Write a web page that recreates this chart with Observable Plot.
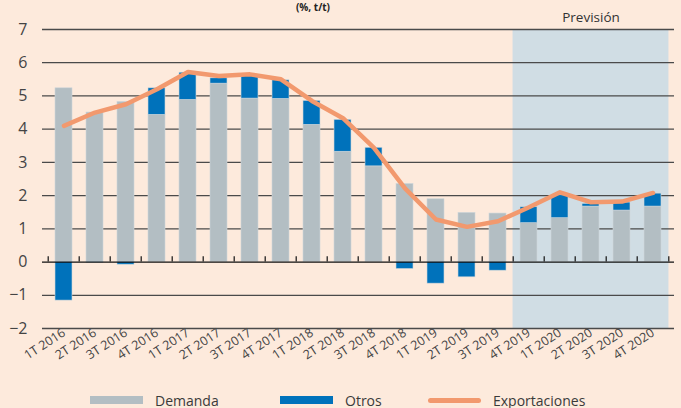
<!DOCTYPE html>
<html>
<head>
<meta charset="utf-8">
<script src="https://cdn.jsdelivr.net/npm/d3@7"></script>
<script src="https://cdn.jsdelivr.net/npm/@observablehq/plot@0.6"></script>
<style>
  html, body { margin: 0; padding: 0; background: #fdeadc; }
  body { width: 681px; height: 408px; position: relative; overflow: hidden; font-family: "Open Sans", sans-serif; color: #3a3a3a; }
  #title { position: absolute; left: 0; width: 330px; text-align: right; top: 1px; font-size: 10px; font-weight: bold; color: #222; line-height: 12px; }
  #chart { position: absolute; left: 0; top: 0; width: 681px; }
  #chart g[aria-label="x-axis tick label"] { font-size: 12.5px; }
  #chart g[aria-label="y-axis tick label"] { font-size: 16px; }
  .legend { position: absolute; top: 390px; height: 20px; font-size: 14px; display: flex; align-items: center; }
  .sw { display: inline-block; width: 53px; height: 8px; margin-right: 12px; }
</style>
</head>
<body>
<div id="chart"></div>
<div id="title">(%, t/t)</div>
<div class="legend" style="left:90px"><span class="sw" style="background:#b3bec3"></span>Demanda</div>
<div class="legend" style="left:280px"><span class="sw" style="background:#0072bb"></span>Otros</div>
<div class="legend" style="left:428px"><span class="sw" style="background:#f2996e;height:5px;border-radius:3px"></span>Exportaciones</div>
<script>
const quarters = ["1T 2016","2T 2016","3T 2016","4T 2016","1T 2017","2T 2017","3T 2017","4T 2017","1T 2018","2T 2018","3T 2018","4T 2018","1T 2019","2T 2019","3T 2019","4T 2019","1T 2020","2T 2020","3T 2020","4T 2020"];
const demanda = [5.23, 4.5, 4.82, 4.43, 4.88, 5.37, 4.92, 4.91, 4.13, 3.32, 2.88, 2.35, 1.89, 1.48, 1.46, 1.17, 1.32, 1.67, 1.55, 1.67];
const otros = [-1.16, -0.02, -0.08, 0.8, 0.82, 0.16, 0.68, 0.56, 0.72, 0.96, 0.56, -0.21, -0.65, -0.46, -0.26, 0.48, 0.69, 0.08, 0.24, 0.39];
const exportaciones = [4.1, 4.5, 4.75, 5.2, 5.72, 5.6, 5.65, 5.5, 4.85, 4.33, 3.44, 2.22, 1.28, 1.06, 1.23, 1.65, 2.1, 1.8, 1.82, 2.08];
const forecast = quarters.slice(15);
const yTicks = [-2, -1, 0, 1, 2, 3, 4, 5, 6, 7];

const bars = [];
quarters.forEach((q, i) => {
  bars.push({q, serie: "Demanda", v: demanda[i]});
  bars.push({q, serie: "Otros", v: otros[i]});
});
const line = quarters.map((q, i) => ({q, v: exportaciones[i]}));

const W = 681, H = 385, ML = 42, MR = 7;
const step = (W - ML - MR) / quarters.length;
const pad = 0.44;

const plot = Plot.plot({
  width: W, height: H,
  marginLeft: ML, marginRight: MR, marginTop: 29, marginBottom: 57,
  style: {background: "transparent", fontFamily: "Open Sans, sans-serif", color: "#444"},
  x: {domain: quarters, paddingInner: pad, paddingOuter: pad / 2, label: null, tickSize: 0, tickPadding: 3, tickRotate: -33},
  y: {domain: [-2, 7], ticks: yTicks, label: null, tickSize: 0, tickPadding: 15},
  color: {domain: ["Demanda", "Otros"], range: ["#b3bec3", "#0072bb"]},
  marks: [
    Plot.barY(forecast, {x: d => d, y1: -2, y2: 7, fill: "#d0dde4", insetLeft: -step * pad / 2 - 0.5, insetRight: -step * pad / 2 - 0.5}),
    Plot.ruleY(yTicks.filter(d => d !== 0), {stroke: "#4a4a4a", strokeWidth: 1.3}),
    Plot.barY(bars, {x: "q", y: "v", fill: "serie", order: ["Demanda", "Otros"], stroke: "#cfd6d9", strokeWidth: 0.6}),
    Plot.ruleY([0], {stroke: "#111", strokeWidth: 1.3}),
    Plot.ruleX(quarters, {x: d => d, y1: 0, y2: 0.16, dx: -step / 2, stroke: "#111", strokeWidth: 1.2}),
    Plot.ruleX(quarters.slice(-1), {x: d => d, y1: 0, y2: 0.16, dx: step / 2, stroke: "#111", strokeWidth: 1.2}),
    Plot.line(line, {x: "q", y: "v", stroke: "#f2996e", strokeWidth: 4.5, strokeLinejoin: "round", strokeLinecap: "round"}),
    Plot.text(["Previsión"], {x: () => quarters[17], y: 7, dy: -12, fontSize: 13.5, fill: "#333"})
  ]
});
document.getElementById("chart").appendChild(plot);
</script>
</body>
</html>
